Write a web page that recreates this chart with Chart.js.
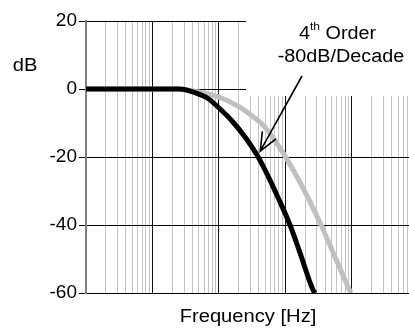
<!DOCTYPE html>
<html>
<head>
    <title>4th Order Filter Response</title>
    <script src="https://cdn.jsdelivr.net/npm/chart.js"></script>
    <style>
        html, body { margin: 0; padding: 0; background: #fff; }
    </style>
</head>
<body>
    <div style="width: 409px; height: 330px;">
        <canvas id="bodeChart" width="409" height="330"></canvas>
    </div>
    <script>
        // Values (frequency is relative, x axis has no labels)
        const freqBlack = [1, 26, 44, 69, 97, 158, 248, 376, 551, 807, 1180, 1670, 2620, 2810];
        const dbBlack = [0, 0, -1.1, -2.8, -5.3, -9.4, -14.1, -19.4, -25.6, -32.6, -40, -48.2, -59.1, -60];
        const freqGray = [1, 22, 39.5, 60, 91, 138, 209, 316, 480, 927, 1920, 3460, 5620, 9290, 9800];
        const dbGray = [0, 0, -0.6, -1.2, -2.1, -3.5, -5.4, -7.9, -10.9, -18.8, -29.7, -40, -49.4, -59.1, -60];
        const yTicks = [-60, -40, -20, 0, 20];
        const xMin = 1;
        const xMax = 73000;

        const FONT = '"Liberation Sans", Arial, sans-serif';

        // gridlines at 1..9 x 10^k
        function logTicks() {
            let t = [];
            for (let k = 0; k <= 4; k++) {
                for (let m = 1; m <= 9; m++) {
                    const v = m * Math.pow(10, k);
                    if (v <= xMax) t.push({ value: v });
                }
            }
            return t;
        }

        function isDecade(v) {
            const l = Math.log10(v);
            return Math.abs(l - Math.round(l)) < 1e-9;
        }

        function stretchText(ctx, text, x, y, sx) {
            ctx.save();
            ctx.translate(x, y);
            ctx.scale(sx, 1);
            ctx.fillText(text, 0, 0);
            ctx.restore();
        }

        const annotations = {
            id: 'annotations',
            beforeDatasetsDraw(chart) {
                // white box behind the annotation text hides the grid
                const ctx = chart.ctx;
                ctx.save();
                ctx.fillStyle = '#fff';
                ctx.fillRect(246, 0, 409 - 246, 96);
                ctx.restore();
            },
            afterDraw(chart) {
                const ctx = chart.ctx;
                const x = chart.scales.x;
                const y = chart.scales.y;
                ctx.save();
                ctx.fillStyle = '#000';
                ctx.textBaseline = 'middle';
                ctx.textAlign = 'center';
                ctx.font = '18px ' + FONT;
                stretchText(ctx, 'dB', 25, 66, 1.12);
                stretchText(ctx, 'Frequency [Hz]', 248, 317, 1.12);
                stretchText(ctx, '-80dB/Decade', 341, 57, 1.1);

                // "4th Order" with superscript
                ctx.textAlign = 'left';
                ctx.save();
                ctx.translate(299, 34);
                ctx.scale(1.1, 1);
                ctx.font = '18px ' + FONT;
                ctx.fillText('4', 0, 0);
                let w = ctx.measureText('4').width;
                ctx.font = '11px ' + FONT;
                ctx.fillText('th', w, -7);
                w += ctx.measureText('th').width;
                ctx.font = '18px ' + FONT;
                ctx.fillText(' Order', w, 0);
                ctx.restore();

                // arrow pointing at the black curve
                const tx = x.getPixelForValue(420);
                const ty = y.getPixelForValue(-18.3);
                const sx0 = 302, sy0 = 76;
                ctx.strokeStyle = '#000';
                ctx.lineWidth = 1.6;
                ctx.beginPath();
                ctx.moveTo(sx0, sy0);
                ctx.lineTo(tx, ty);
                const ang = Math.atan2(sy0 - ty, sx0 - tx);
                const len = 20, spread = 0.4;
                ctx.moveTo(tx + len * Math.cos(ang - spread), ty + len * Math.sin(ang - spread));
                ctx.lineTo(tx, ty);
                ctx.lineTo(tx + len * Math.cos(ang + spread), ty + len * Math.sin(ang + spread));
                ctx.stroke();
                ctx.restore();
            }
        };

        const bodeChart = new Chart(document.getElementById('bodeChart').getContext('2d'), {
            type: 'line',
            data: {
                datasets: [
                    {
                        label: '4th order',
                        data: freqBlack.map((f, i) => ({ x: f, y: dbBlack[i] })),
                        borderColor: '#000',
                        borderWidth: 5,
                        pointRadius: 0,
                        cubicInterpolationMode: 'monotone',
                        order: 0,
                    },
                    {
                        label: '2nd order',
                        data: freqGray.map((f, i) => ({ x: f, y: dbGray[i] })),
                        borderColor: '#c0c0c0',
                        borderWidth: 5,
                        pointRadius: 0,
                        cubicInterpolationMode: 'monotone',
                        order: 1,
                    },
                ],
            },
            options: {
                responsive: false,
                animation: false,
                events: [],
                layout: { padding: { top: 21, bottom: 37, left: 0, right: 0 } },
                plugins: { legend: { display: false }, tooltip: { enabled: false } },
                scales: {
                    x: {
                        type: 'logarithmic',
                        min: xMin,
                        max: xMax,
                        afterBuildTicks: (scale) => { scale.ticks = logTicks(); },
                        afterFit: (scale) => { scale.height = 0; },
                        ticks: { display: false },
                        grid: {
                            drawTicks: false,
                            lineWidth: 1,
                            color: (c) => {
                                const v = c.tick ? c.tick.value : 0;
                                if (v === xMin) return '#808080';
                                return isDecade(v) ? '#111' : '#c4c4c4';
                            },
                        },
                        border: { display: true, color: '#000', width: 1 },
                    },
                    y: {
                        min: -60,
                        max: 20,
                        afterBuildTicks: (scale) => { scale.ticks = yTicks.map(v => ({ value: v })); },
                        afterFit: (scale) => { scale.width = 86; },
                        ticks: {
                            color: '#000',
                            padding: 2,
                            font: { family: FONT, size: 19 },
                        },
                        grid: {
                            color: '#000',
                            tickColor: '#000',
                            tickLength: 7,
                            lineWidth: 1,
                        },
                        border: { display: true, color: '#808080', width: 2 },
                    },
                },
            },
            plugins: [annotations],
        });
    </script>
</body>
</html>
